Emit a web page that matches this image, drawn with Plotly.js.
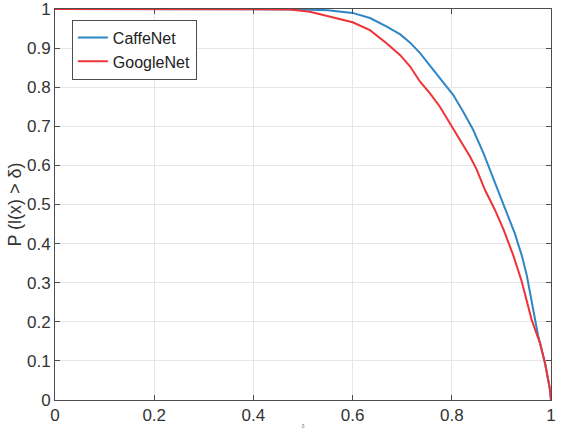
<!DOCTYPE html>
<html>
<head>
<meta charset="utf-8">
<script src="https://cdn.plot.ly/plotly-3.0.1.min.js"></script>
<style>html,body{margin:0;padding:0;background:#fff;}#chart{width:562px;height:437px;}</style>
</head>
<body>
<div id="chart"></div>
<script>
// CaffeNet curve
const caffeEps = [0, 0.45, 0.5, 0.55, 0.575, 0.6, 0.635, 0.669, 0.696, 0.716, 0.736, 0.763, 0.783, 0.803, 0.823, 0.843, 0.864, 0.877, 0.891, 0.911, 0.927, 0.941, 0.951, 0.964, 0.974, 0.988, 0.998, 1.0];
const caffeP   = [1, 1, 0.999, 0.997, 0.994, 0.99, 0.977, 0.955, 0.935, 0.914, 0.887, 0.844, 0.814, 0.78, 0.737, 0.691, 0.631, 0.588, 0.54, 0.477, 0.426, 0.37, 0.32, 0.232, 0.165, 0.094, 0.026, 0];
// GoogleNet curve
const googleEps = [0, 0.45, 0.474, 0.514, 0.554, 0.6, 0.635, 0.669, 0.696, 0.716, 0.736, 0.756, 0.776, 0.796, 0.817, 0.837, 0.85, 0.867, 0.887, 0.904, 0.924, 0.941, 0.961, 0.978, 0.988, 0.997, 1.0];
const googleP   = [1, 1, 0.999, 0.993, 0.981, 0.966, 0.946, 0.912, 0.882, 0.853, 0.814, 0.784, 0.75, 0.708, 0.665, 0.622, 0.59, 0.537, 0.486, 0.437, 0.37, 0.303, 0.205, 0.145, 0.094, 0.034, 0];

const seriesNames = ['CaffeNet', 'GoogleNet'];
const xTicks = [0, 0.2, 0.4, 0.6, 0.8, 1];
const xTickLabels = ['0', '0.2', '0.4', '0.6', '0.8', '1'];
const yTicks = [0, 0.1, 0.2, 0.3, 0.4, 0.5, 0.6, 0.7, 0.8, 0.9, 1];
const yTickLabels = ['0', '0.1', '0.2', '0.3', '0.4', '0.5', '0.6', '0.7', '0.8', '0.9', '1'];

const traces = [
  {x: caffeEps, y: caffeP, name: seriesNames[0], mode: 'lines', line: {color: '#2f86c6', width: 2}},
  {x: googleEps, y: googleP, name: seriesNames[1], mode: 'lines', line: {color: '#ee3338', width: 2}}
];

const fontFam = 'Liberation Sans, Arial, sans-serif';
const axisCommon = {
  showline: true, linecolor: '#4d4d4d', linewidth: 1, mirror: 'ticks',
  ticks: 'inside', ticklen: 5, tickcolor: '#4d4d4d',
  showgrid: true, gridcolor: '#e6e6e6', gridwidth: 1,
  zeroline: false, tickfont: {family: fontFam, size: 17, color: '#333333'},
  tickmode: 'array', ticklabeloverflow: 'allow', automargin: false
};

const layout = {
  width: 562, height: 437,
  margin: {l: 55, r: 11, t: 9, b: 37},
  paper_bgcolor: '#ffffff', plot_bgcolor: '#ffffff',
  showlegend: true,
  legend: {x: 0.034, y: 0.973, xanchor: 'left', yanchor: 'top', bgcolor: '#ffffff',
           bordercolor: '#4d4d4d', borderwidth: 1,
           font: {family: fontFam, size: 16, color: '#222222'},
           tracegroupgap: 0},
  xaxis: Object.assign({}, axisCommon, {
    range: [0, 1], tickvals: xTicks, ticktext: xTickLabels,
    title: {text: 'δ', font: {size: 5, color: '#555555'}, standoff: 0}
  }),
  yaxis: Object.assign({}, axisCommon, {
    range: [0, 1], tickvals: yTicks, ticktext: yTickLabels,
    title: {text: 'P (l(x) > δ)', font: {family: fontFam, size: 18, color: '#333333'}, standoff: 0}
  })
};

Plotly.newPlot('chart', traces, layout, {displayModeBar: false, staticPlot: true});
</script>
</body>
</html>
